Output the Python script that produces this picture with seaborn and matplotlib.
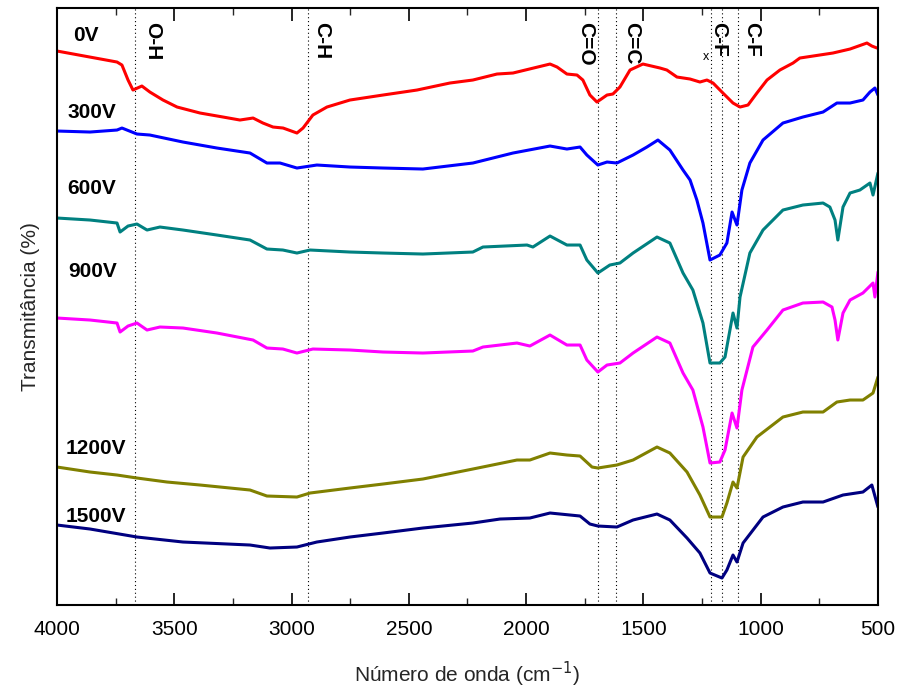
import numpy as np
import pandas as pd
import seaborn as sns
import matplotlib
matplotlib.use("Agg")
import matplotlib.pyplot as plt
from matplotlib.ticker import MultipleLocator, NullLocator

sns.set_theme(style="white")
plt.rcParams['font.family'] = ['Liberation Sans', 'DejaVu Sans']

# ---- data (wavenumber cm-1, transmittance arbitrary offset units) ----
wn_0 = [4000, 3744, 3723, 3697, 3676, 3638, 3604, 3548, 3488, 3390, 3292, 3220, 3164, 3122, 3079,
        3036, 2977, 2951, 2909, 2849, 2751, 2610, 2465, 2325, 2227, 2124, 2056, 1898, 1868, 1826,
        1783, 1758, 1728, 1698, 1655, 1630, 1600, 1557, 1502, 1429, 1400, 1357, 1301, 1259, 1229,
        1203, 1161, 1118, 1088, 1054, 1016, 973, 918, 862, 833, 692, 619, 547, 526, 504]
t_0 = [554, 543, 540, 525, 515, 519, 513, 505, 498, 492, 488, 485, 487, 482, 478,
       477, 472, 477, 490, 498, 505, 510, 515, 522, 525, 531, 532, 541, 538, 531,
       530, 525, 510, 503, 510, 511, 518, 535, 541, 537, 535, 528, 526, 523, 525,
       522, 512, 502, 498, 500, 512, 525, 535, 542, 547, 552, 556, 562, 559, 557]

wn_300 = [4000, 3859, 3744, 3723, 3659, 3604, 3463, 3318, 3177, 3105, 3049, 2977, 2892, 2751, 2610,
          2440, 2227, 2056, 1898, 1826, 1770, 1741, 1694, 1655, 1613, 1544, 1485, 1438, 1387, 1331,
          1301, 1272, 1246, 1216, 1174, 1144, 1122, 1101, 1080, 1046, 990, 905, 820, 734, 675,
          619, 564, 534, 513, 500]
t_300 = [474, 473, 475, 477, 471, 470, 463, 457, 452, 442, 442, 437, 440, 438, 437,
         436, 442, 452, 459, 456, 458, 450, 440, 443, 442, 450, 458, 465, 455, 435,
         425, 405, 382, 345, 350, 362, 393, 380, 415, 442, 465, 482, 488, 493, 502,
         502, 505, 513, 517, 510]

wn_600 = [4000, 3859, 3744, 3731, 3697, 3659, 3616, 3561, 3463, 3318, 3177, 3105, 3037, 2977, 2921,
          2751, 2610, 2440, 2227, 2184, 1996, 1971, 1898, 1826, 1770, 1741, 1694, 1643, 1600, 1544,
          1442, 1387, 1331, 1289, 1246, 1216, 1174, 1152, 1131, 1118, 1101, 1088, 1046, 990, 905,
          820, 734, 705, 683, 671, 649, 619, 577, 534, 521, 500]
t_600 = [387, 385, 382, 373, 379, 381, 375, 378, 375, 370, 365, 356, 355, 352, 355,
         353, 352, 351, 353, 358, 360, 358, 369, 360, 360, 345, 332, 340, 342, 352,
         368, 362, 332, 315, 282, 242, 242, 248, 275, 292, 277, 308, 352, 375, 395,
         400, 402, 398, 385, 365, 398, 412, 415, 422, 410, 432]

wn_900 = [4000, 3859, 3744, 3731, 3697, 3659, 3616, 3561, 3463, 3318, 3164, 3105, 3037, 2977, 2909,
          2751, 2610, 2440, 2227, 2184, 2039, 1984, 1898, 1826, 1770, 1741, 1694, 1655, 1600, 1544,
          1442, 1387, 1331, 1289, 1246, 1216, 1174, 1152, 1122, 1101, 1080, 1033, 973, 905, 820,
          734, 696, 683, 671, 649, 619, 564, 521, 513, 500]
t_900 = [287, 285, 282, 273, 279, 282, 275, 278, 277, 272, 265, 257, 256, 252, 256,
         255, 253, 252, 254, 258, 262, 259, 270, 260, 260, 245, 233, 240, 242, 252,
         268, 262, 232, 215, 178, 142, 143, 155, 192, 177, 215, 258, 275, 295, 302,
         303, 298, 285, 265, 292, 305, 312, 322, 308, 333]

wn_1200 = [4000, 3859, 3744, 3659, 3531, 3390, 3177, 3105, 2977, 2921, 2751, 2610, 2440, 2227, 2039,
           1984, 1898, 1826, 1770, 1719, 1694, 1613, 1544, 1442, 1387, 1314, 1259, 1216, 1165, 1144,
           1118, 1101, 1075, 1016, 905, 820, 734, 675, 619, 564, 521, 500]
t_1200 = [138, 133, 130, 127, 123, 120, 115, 109, 108, 112, 117, 121, 126, 136, 145,
          145, 152, 150, 149, 138, 137, 140, 145, 158, 152, 133, 110, 88, 88, 102,
          123, 117, 148, 168, 188, 193, 193, 203, 205, 205, 212, 228]

wn_1500 = [4000, 3859, 3659, 3463, 3177, 3092, 2977, 2892, 2751, 2610, 2440, 2227, 2111, 1984, 1898,
           1770, 1728, 1694, 1613, 1544, 1442, 1387, 1314, 1259, 1216, 1165, 1144, 1118, 1101, 1075,
           990, 905, 820, 734, 649, 564, 526, 500]
t_1500 = [80, 76, 68, 63, 60, 57, 58, 63, 68, 72, 77, 82, 86, 87, 92,
          89, 81, 79, 78, 85, 91, 85, 67, 52, 32, 27, 35, 50, 43, 62,
          88, 98, 103, 103, 110, 113, 120, 98]

series_names = ["0V", "300V", "600V", "900V", "1200V", "1500V"]
series_colors = ["#FF0000", "#0000FF", "#008080", "#FF00FF", "#808000", "#000080"]
series_wn = [wn_0, wn_300, wn_600, wn_900, wn_1200, wn_1500]
series_t = [t_0, t_300, t_600, t_900, t_1200, t_1500]
label_pos = [(3932, 570), (3957, 493), (3957, 417), (3953, 334), (3965, 157), (3965, 89)]

band_positions = [3668, 2930, 1694, 1617, 1212, 1165, 1097]
band_labels = [("O-H", 3591), ("C-H", 2870), ("C=O", 1745), ("C=C", 1549), ("C-F", 1178), ("C-F", 1037)]

# ---- figure ----
fig = plt.figure(figsize=(9, 6.92), dpi=100)
ax = fig.add_axes([0.0633, 0.1257, 0.9122, 0.8627])

frames = []
for name, wn, t in zip(series_names, series_wn, series_t):
    frames.append(pd.DataFrame({"wn": wn, "T": t, "serie": name}))
df = pd.concat(frames, ignore_index=True)

for name, col in zip(series_names, series_colors):
    sub = df[df["serie"] == name]
    sns.lineplot(data=sub, x="wn", y="T", color=col, linewidth=2.2, ax=ax,
                 estimator=None, sort=True, legend=False)

for xv in band_positions:
    ax.axvline(xv, color="black", linestyle=(0, (1, 2.5)), linewidth=0.8, zorder=0)

for (txt, xv) in band_labels:
    ax.text(xv, 583, txt, rotation=-90, ha="center", va="top", fontsize=15,
            fontweight="bold", color="black")
ax.text(1231, 548, "x", ha="center", va="center", fontsize=9, color="black")

for name, (xv, yv) in zip(series_names, label_pos):
    ax.text(xv, yv, name, ha="left", va="center", fontsize=15, fontweight="bold", color="black")

ax.set_xlim(4000, 500)
ax.set_ylim(0, 597)
ax.xaxis.set_major_locator(MultipleLocator(500))
ax.xaxis.set_minor_locator(MultipleLocator(250))
ax.yaxis.set_major_locator(NullLocator())
ax.tick_params(axis="x", which="major", direction="in", length=9, width=1.2,
               top=True, bottom=True, labelsize=15, pad=11, colors="black")
ax.tick_params(axis="x", which="minor", direction="in", length=5, width=1.0,
               top=True, bottom=True)
for s in ax.spines.values():
    s.set_color("black")
    s.set_linewidth(1.5)

ax.set_xlabel("Número de onda (cm$^{-1}$)", fontsize=15, labelpad=15)
ax.set_ylabel("Transmitância (%)", fontsize=15, labelpad=12)

fig.savefig("out.png", dpi=100)
